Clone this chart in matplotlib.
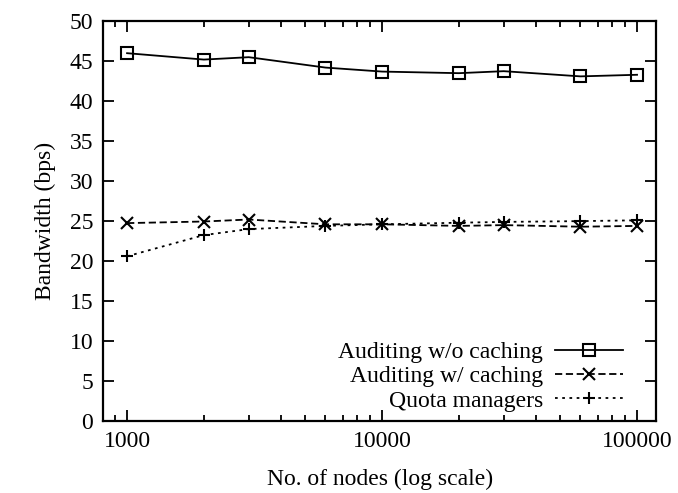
import matplotlib
matplotlib.use("Agg")
import matplotlib.pyplot as plt
from matplotlib.ticker import FixedLocator, LogLocator, NullFormatter

plt.rcParams["font.family"] = ["Liberation Serif", "DejaVu Serif"]

nodes = [1000, 2000, 3000, 6000, 10000, 20000, 30000, 60000, 100000]
no_cache = [46.0, 45.2, 45.5, 44.2, 43.7, 43.5, 43.75, 43.1, 43.3]
with_cache = [24.75, 24.95, 25.2, 24.6, 24.6, 24.4, 24.5, 24.3, 24.4]
quota = [20.6, 23.25, 24.0, 24.4, 24.6, 24.8, 24.9, 25.0, 25.1]

x_ticks = [1000, 10000, 100000]
y_ticks = list(range(0, 51, 5))

fig = plt.figure(figsize=(6.78, 4.93), dpi=100)
ax = fig.add_axes([0.152, 0.146, 0.816, 0.811])

ax.plot(nodes, no_cache, color="black", lw=1.3, marker="s", ms=8,
        mfc="none", mew=1.5, label="Auditing w/o caching")
ax.plot(nodes, with_cache, color="black", lw=1.3, marker="x", ms=8,
        mew=1.5, dashes=(4, 2), label="Auditing w/ caching")
ax.plot(nodes, quota, color="black", lw=1.3, marker="+", ms=9,
        mew=1.5, dashes=(1.5, 2.5), label="Quota managers")

ax.set_xscale("log")
ax.set_xlim(805, 119000)
ax.set_ylim(0, 50)
ax.xaxis.set_major_locator(FixedLocator(x_ticks))
ax.set_xticklabels([str(v) for v in x_ticks])
ax.xaxis.set_minor_locator(LogLocator(base=10, subs=range(2, 10)))
ax.xaxis.set_minor_formatter(NullFormatter())
ax.set_yticks(y_ticks)

ax.tick_params(which="both", direction="in", top=True, right=True,
               labelsize=17, width=1.3)
ax.tick_params(which="major", length=8, pad=7)
ax.tick_params(which="minor", length=4)
for sp in ax.spines.values():
    sp.set_linewidth(1.6)

ax.set_xlabel("No. of nodes (log scale)", fontsize=17, labelpad=12)
ax.set_ylabel("Bandwidth (bps)", fontsize=17, labelpad=10)

ax.legend(loc="lower right", frameon=False, markerfirst=False, fontsize=17,
          handlelength=2.9, handletextpad=0.5, labelspacing=0.12,
          borderaxespad=0.0, bbox_to_anchor=(0.957, 0.0))

fig.savefig("out.png", dpi=100)
